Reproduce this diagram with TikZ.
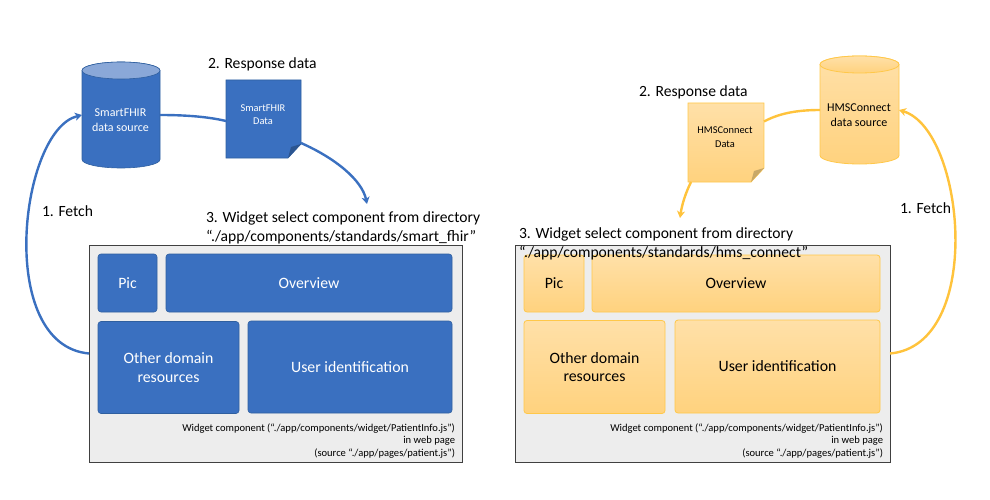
\documentclass[tikz,border=0pt]{standalone}
\usepackage{fontspec}
\setmainfont{Carlito}
\usetikzlibrary{arrows.meta,calc}
\definecolor{bluemain}{HTML}{3A70C0}
\definecolor{blueedge}{HTML}{2F5F9F}
\definecolor{bluetop}{HTML}{8AA8D8}
\definecolor{bluefold}{HTML}{2C5590}
\definecolor{orangetop}{HTML}{FFE0A8}
\definecolor{orangebot}{HTML}{FFD27E}
\definecolor{orangeedge}{HTML}{FFC84A}
\definecolor{orangefold}{HTML}{C8A868}
\definecolor{orangeline}{HTML}{FFC33C}
\definecolor{framefill}{HTML}{EDEDED}
\definecolor{frameedge}{HTML}{404040}
\tikzset{
  blueshape/.style={fill=bluemain,draw=blueedge,line width=.6pt},
  orangeshape/.style={top color=orangetop,bottom color=orangebot,draw=orangeedge,line width=.8pt},
  anchorbox/.style={inner sep=0pt,outer sep=0pt,minimum width=#1},
  framebox/.style={fill=framefill,draw=frameedge,line width=.9pt,inner sep=0pt,outer sep=0pt},
  panelblue/.style={blueshape,rounded corners=3pt,inner sep=0pt,outer sep=0pt,text=white,font=\fontsize{15.8}{18.5}\selectfont,align=center},
  panelorange/.style={orangeshape,rounded corners=3pt,inner sep=0pt,outer sep=0pt,text=black,font=\fontsize{15.8}{18.5}\selectfont,align=center},
  caption/.style={inner sep=0pt,outer sep=0pt,anchor=west,font=\fontsize{15.6}{19}\selectfont,text=black},
  smallnote/.style={inner sep=0pt,outer sep=0pt,anchor=east,align=right,font=\fontsize{10.55}{12.6}\selectfont,text=black},
  bluelink/.style={draw=bluemain,line width=2.4pt},
  orangelink/.style={draw=orangeline,line width=2.4pt},
  tipped/.style={-{Stealth[length=7pt,width=8pt,inset=2pt]}},
}
\newcommand{\cylshape}[6]{% x1,x2,ytop,ybot,style,topfill
  \path[#5] (#1,#3+8.5) -- (#1,#4-8.5) arc[start angle=180,end angle=0,x radius={(#2-#1)/2},y radius=8.5] -- (#2,#3+8.5) arc[start angle=0,end angle=-180,x radius={(#2-#1)/2},y radius=8.5] -- cycle;
  \path[#5,#6] ({(#1+#2)/2},#3+8.5) ellipse[x radius={(#2-#1)/2},y radius=8.5];
}
\newcommand{\docshape}[6]{% x1,x2,ytop,ybot,style,foldfill
  \path[#5] (#1,#3) -- (#2,#3) -- (#2,#4-14) -- (#2-13,#4) -- (#1,#4) -- cycle;
  \path[draw=none,fill=#6] (#2,#4-14) -- (#2-13,#4) -- (#2-10,#4-11) -- cycle;
}
\begin{document}
\begin{tikzpicture}[x=1pt,y=-1pt]
\useasboundingbox (0,0) rectangle (990,500);
% ---- left side
\node[framebox,minimum width=373pt,minimum height=217pt] (frameL) at (275.5,353.5) {};
\node[panelblue,minimum width=59pt,minimum height=58pt] (picL) at (127.5,283) {Pic};
\node[panelblue,minimum width=286pt,minimum height=58pt] (overL) at (309,283) {Overview};
\node[panelblue,minimum width=141pt,minimum height=92pt] (otherL) at (168.5,367.5) {Other domain\\resources};
\node[panelblue,minimum width=204pt,minimum height=92pt] (userL) at (350,367) {User identification};
\node[smallnote] (noteL) at (455,441) {Widget component  (“./app/components/widget/PatientInfo.js”)\\in web page\\(source “./app/pages/patient.js”)};
\cylshape{82}{160}{62}{168}{blueshape}{fill=bluetop}
\docshape{226}{301}{80}{158}{blueshape}{bluefold}
\node[anchorbox=78pt,minimum height=106pt] (cylL) at (121,115) {};
\node[anchorbox=75pt,minimum height=78pt] (docL) at (263.5,119) {};
\node[inner sep=0pt,text=white,align=center,font=\fontsize{12}{15}\selectfont] (cylLt) at (120.5,120) {SmartFHIR\\data source};
\node[inner sep=0pt,text=white,align=center,font=\fontsize{10.4}{13.5}\selectfont] (docLt) at (263,114.5) {SmartFHIR\\Data};
\node[caption] (respL) at (208,64) {2. Response data};
\node[caption] (fetchL) at (42,211) {1. Fetch};
\node[caption,align=left] (widgetL) at (206,228) {3. Widget select component from directory\\“./app/components/standards/smart\_fhir”};
\coordinate (arrL) at (367,204);
\draw[bluelink,tipped] (frameL.west) .. controls (-5,345) and (20,130) .. (cylL.west);
\draw[bluelink] (cylL.east) .. controls (180,115) and (205,116) .. ($(docL.west)+(0,2)$);
\draw[bluelink,tipped] ($(docL.east)+(0,24)$) .. controls (335,158) and (362,180) .. (arrL);
% ---- right side
\node[framebox,minimum width=375pt,minimum height=217pt] (frameR) at (702.5,353.5) {};
\node[panelorange,minimum width=60pt,minimum height=57pt] (picR) at (554,283.5) {Pic};
\node[panelorange,minimum width=288pt,minimum height=57pt] (overR) at (736,283.5) {Overview};
\node[panelorange,minimum width=141pt,minimum height=93pt] (otherR) at (594.5,367) {Other domain\\resources};
\node[panelorange,minimum width=205pt,minimum height=93pt] (userR) at (777.5,366.5) {User identification};
\node[smallnote] (noteR) at (883,441) {Widget component  (“./app/components/widget/PatientInfo.js”)\\in web page\\(source “./app/pages/patient.js”)};
\cylshape{820}{899}{56}{164}{orangeshape}{}
\docshape{688}{764}{103}{182}{orangeshape}{orangefold}
\node[anchorbox=79pt,minimum height=108pt] (cylR) at (859.5,110) {};
\node[anchorbox=76pt,minimum height=79pt] (docR) at (726,142.5) {};
\node[inner sep=0pt,text=black,align=center,font=\fontsize{12}{15}\selectfont] (cylRt) at (859,115) {HMSConnect\\data source};
\node[inner sep=0pt,text=black,align=center,font=\fontsize{10.4}{13.5}\selectfont] (docRt) at (725,137) {HMSConnect\\Data};
\node[caption] (respR) at (639,92) {2. Response data};
\node[caption] (fetchR) at (900,208) {1. Fetch};
\node[caption,align=left] (widgetR) at (519,244) {3. Widget select component from directory\\“./app/components/standards/hms\_connect”};
\coordinate (arrR) at (680,218);
\draw[orangelink,tipped] (frameR.east) .. controls (985,345) and (965,130) .. (cylR.east);
\draw[orangelink] (cylR.west) .. controls (795,110) and (778,114) .. ($(docR.east)+(0,-21)$);
\draw[orangelink,tipped] ($(docR.south west)+(3,0)$) .. controls (686,192) and (682,204) .. (arrR);
\end{tikzpicture}
\end{document}
